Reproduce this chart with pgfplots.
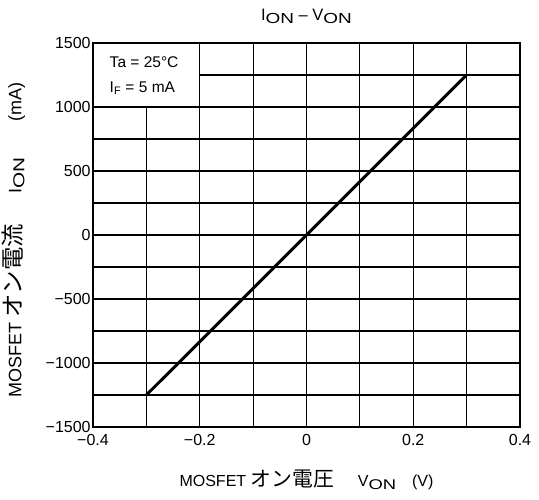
\documentclass[border=0pt]{standalone}
\usepackage{fontspec}
\setmainfont{Liberation Sans}
\newfontfamily\cjk{Noto Sans CJK JP}[Scale=1.3]
\usepackage{graphicx}
\usepackage{pgfplots}
\pgfplotsset{compat=1.18}
\newcommand\sub[1]{\raisebox{-0.3ex}{\scalebox{1.15}[0.88]{#1}}}

\pgfplotsset{common/.style={
  at={(0,0)}, anchor=south west,
  scale only axis, width=427pt, height=384pt,
  xmin=-0.4, xmax=0.4, ymin=-1500, ymax=1500,
}}

\begin{document}
\fontsize{15.5}{18}\selectfont
\begin{tikzpicture}[x=1pt,y=1pt]
% labels only
\begin{axis}[common,
  axis line style={draw=none},
  tick style={draw=none},
  xtick={-0.4,-0.2,0,0.2,0.4},
  xticklabels={−0.4,−0.2,0,0.2,0.4},
  ytick={-1500,-1000,-500,0,500,1000,1500},
  yticklabels={−1500,−1000,−500,0,500,1000,1500},
  tick label style={font=\fontsize{16}{18}\selectfont},
  xticklabel style={yshift=-2pt},
  yticklabel style={xshift=3pt},
  title={I\sub{ON} – V\sub{ON}},
  title style={font=\fontsize{16.5}{19}\selectfont, yshift=8pt},
  xlabel={MOSFET {\cjk オン電圧}\hspace{1.5em}V\sub{ON}\quad (V)},
  xlabel style={font=\fontsize{16}{19}\selectfont, yshift=-14pt},
  ylabel={MOSFET {\cjk オン電流}\hspace{1.7em}I\sub{ON}\hspace{2em}(mA)},
  ylabel style={font=\fontsize{18}{21}\selectfont, yshift=10pt, xshift=-5pt},
]
\end{axis}
% grid, frame and data
\begin{axis}[common,
  major tick length=0pt,
  xtick={-0.4,-0.3,-0.2,-0.1,0,0.1,0.2,0.3,0.4},
  ytick={-1500,-1250,-1000,-750,-500,-250,0,250,500,750,1000,1250,1500},
  xticklabels={}, yticklabels={},
  grid=major,
  major grid style={black, line width=1.1pt},
  axis line style={black, line width=2pt},
]
% grid lines at the labelled values, drawn again
\draw[black, line width=1.1pt]
  (axis cs:-0.2,-1500) -- (axis cs:-0.2,1500)
  (axis cs:0,-1500) -- (axis cs:0,1500)
  (axis cs:0.2,-1500) -- (axis cs:0.2,1500)
  (axis cs:-0.4,-1000) -- (axis cs:0.4,-1000)
  (axis cs:-0.4,-500) -- (axis cs:0.4,-500)
  (axis cs:-0.4,0) -- (axis cs:0.4,0)
  (axis cs:-0.4,500) -- (axis cs:0.4,500)
  (axis cs:-0.4,1000) -- (axis cs:0.4,1000);
\addplot[black, line width=3pt] coordinates {(-0.3,-1250) (0.3,1250)};
\draw[black, line width=1.1pt, fill=white] (axis cs:-0.4,1000) rectangle (axis cs:-0.2,1500);
\node[anchor=west, inner sep=0pt] at (axis cs:-0.369,1352) {Ta = 25°C};
\node[anchor=west, inner sep=0pt] at (axis cs:-0.369,1148) {I\textsubscript{F} = 5 mA};
\end{axis}
\pgfresetboundingbox
\useasboundingbox (-93pt,-73pt) rectangle (446pt,427pt);
\end{tikzpicture}
\end{document}
